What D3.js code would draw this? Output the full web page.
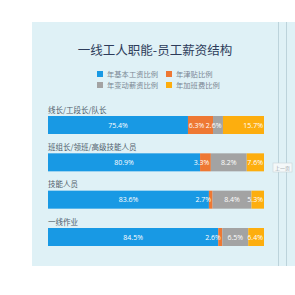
<!DOCTYPE html>
<html>
<head>
<meta charset="utf-8">
<script src="https://cdn.jsdelivr.net/npm/d3@7"></script>
<style>
html,body{margin:0;padding:0;background:#ffffff;}
svg{display:block;}
</style>
</head>
<body>
<svg id="chart" width="295" height="295"></svg>
<script>
// ---- data ----
const title = "一线工人职能-员工薪资结构";
const categories = ["线长/工段长/队长", "班组长/领班/高级技能人员", "技能人员", "一线作业"];
const seriesNames = ["年基本工资比例", "年津贴比例", "年变动薪资比例", "年加班费比例"];
const seriesColors = ["#1899e4", "#ee7833", "#a3a3a3", "#fdae0e"];
// printed percentage labels
const baseLabels     = ["75.4%", "80.9%", "83.6%", "84.5%"];
const allowanceLabels= ["6.3%",  "3.3%",  "2.7%",  "2.6%"];
const variableLabels = ["2.6%",  "8.2%",  "8.4%",  "6.5%"];
const overtimeLabels = ["15.7%", "7.6%",  "5.3%",  "6.4%"];
// drawn segment shares (% of bar length)
const baseShare      = [64.8, 70.4, 74.5, 78.8];
const allowanceShare = [11.6, 5.0, 1.7, 1.9];
const variableShare  = [4.6, 16.6, 18.0, 12.0];
const overtimeShare  = [19.0, 8.0, 5.8, 7.3];

const shares = [baseShare, allowanceShare, variableShare, overtimeShare];
const labels = [baseLabels, allowanceLabels, variableLabels, overtimeLabels];

const rows = categories.map((c, i) => {
  const r = {category: c};
  seriesNames.forEach((s, k) => { r[s] = shares[k][i]; });
  return r;
});

const svg = d3.select("#chart");
const font = "'Noto Sans CJK SC', 'Noto Sans', sans-serif";

// panel background
svg.append("rect").attr("x", 32).attr("y", 22).attr("width", 263).attr("height", 244).attr("fill", "#dff1f6");
svg.append("line").attr("x1", 278.5).attr("x2", 278.5).attr("y1", 22).attr("y2", 266).attr("stroke", "#bcd3db").attr("stroke-width", 1);
svg.append("line").attr("x1", 286.5).attr("x2", 286.5).attr("y1", 22).attr("y2", 266).attr("stroke", "#bcd3db").attr("stroke-width", 1);

// title
svg.append("text").attr("x", 155).attr("y", 55).attr("text-anchor", "middle")
  .attr("font-family", font).attr("font-size", 12.5).attr("fill", "#2d3c5a").text(title);

// legend
const legendPos = [[97, 71], [166, 71], [97, 82], [166, 82]];
const lg = svg.append("g");
seriesNames.forEach((s, k) => {
  const [lx, ly] = legendPos[k];
  lg.append("rect").attr("x", lx).attr("y", ly).attr("width", 6).attr("height", 6).attr("fill", seriesColors[k]);
  lg.append("text").attr("x", lx + 10).attr("y", ly + 5.8).attr("font-family", font)
    .attr("font-size", 7.3).attr("fill", "#7b8793").text(s);
});

// scales
const x = d3.scaleLinear().domain([0, 100]).range([48, 264]);
const y = d3.scalePoint().domain(categories).range([116, 228]);
const barH = 18;

const stack = d3.stack().keys(seriesNames)(rows);

// category labels
svg.append("g").selectAll("text").data(categories).join("text")
  .attr("x", 48).attr("y", d => y(d) - 3.5)
  .attr("font-family", font).attr("font-size", 7.5).attr("fill", "#4f5d6b")
  .text(d => d);

// bars
const layers = svg.append("g").selectAll("g").data(stack).join("g")
  .attr("fill", (d, k) => seriesColors[k]);
layers.selectAll("rect").data(d => d).join("rect")
  .attr("x", d => x(d[0]))
  .attr("y", d => y(d.data.category))
  .attr("width", d => x(d[1]) - x(d[0]))
  .attr("height", barH);

// value labels
const lblG = svg.append("g");
categories.forEach((cat, i) => {
  const placed = [];
  stack.forEach((layer, k) => {
    const d = layer[i];
    const t = lblG.append("text")
      .attr("y", y(cat) + barH / 2 + 2.6)
      .attr("font-family", "'Open Sans', 'Noto Sans', sans-serif")
      .attr("font-size", 7).attr("fill", "#ffffff")
      .attr("text-anchor", "middle")
      .text(labels[k][i]);
    const w = t.node().getComputedTextLength();
    const x0 = x(d[0]), x1 = x(d[1]);
    let cx;
    if (k === seriesNames.length - 1) {
      cx = x1 - 1 - w / 2;
    } else {
      cx = Math.min((x0 + x1) / 2, x1 - 1.5 - w / 2);
    }
    placed.push({t, cx, w});
  });
  // resolve overlaps by pushing earlier labels left
  for (let j = placed.length - 1; j > 0; j--) {
    const cur = placed[j], prev = placed[j - 1];
    const start = cur.cx - cur.w / 2;
    const prevEnd = prev.cx + prev.w / 2;
    if (prevEnd > start - 1.5) prev.cx = start - 1.5 - prev.w / 2;
  }
  placed.forEach(p => p.t.attr("x", p.cx));
});

// small page button on the right
svg.append("rect").attr("x", 273).attr("y", 163).attr("width", 19).attr("height", 9)
  .attr("fill", "#f4f8f9").attr("stroke", "#c9d4d8").attr("stroke-width", 0.6);
svg.append("text").attr("x", 282.5).attr("y", 170).attr("text-anchor", "middle")
  .attr("font-family", font).attr("font-size", 5).attr("fill", "#9aa5aa").text("上一页");
</script>
</body>
</html>
